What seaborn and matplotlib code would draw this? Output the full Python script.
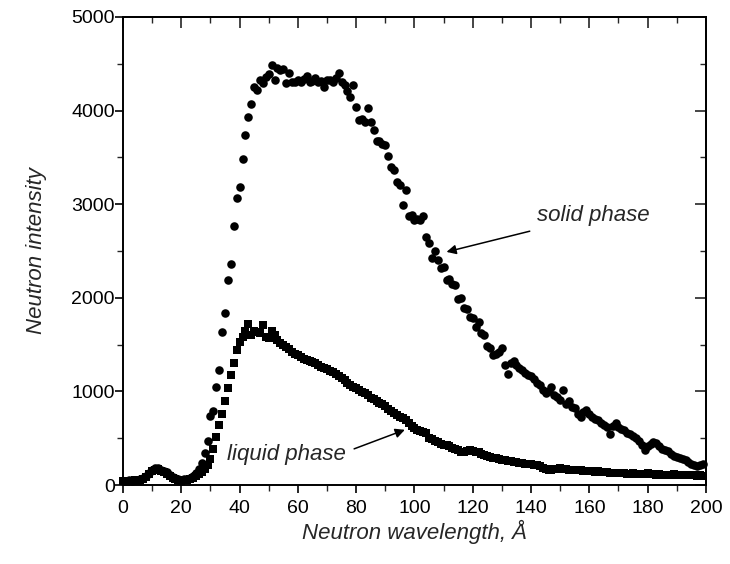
import matplotlib
matplotlib.use("Agg")
import matplotlib.pyplot as plt
from matplotlib.ticker import MultipleLocator
import seaborn as sns
import pandas as pd

# ---- data ----
wavelength = list(range(0, 200))

solid_intensity = [
    45, 40, 50, 45, 55, 50, 60, 75, 95, 130,
    160, 180, 185, 165, 150, 140, 110, 90, 75, 60,
    55, 60, 65, 80, 100, 130, 170, 240, 340, 470,
    740, 790, 1050, 1230, 1630, 1840, 2190, 2360, 2770, 3070,
    3180, 3480, 3740, 3930, 4070, 4250, 4220, 4330, 4290, 4360,
    4390, 4490, 4330, 4450, 4430, 4440, 4290, 4400, 4310, 4300,
    4325, 4310, 4340, 4370, 4300, 4320, 4345, 4300, 4320, 4255,
    4330, 4325, 4300, 4350, 4400, 4300, 4270, 4210, 4150, 4270,
    4040, 3900, 3910, 3880, 4030, 3880, 3790, 3670, 3680, 3640,
    3630, 3510, 3400, 3360, 3240, 3200, 2990, 3150, 2870, 2880,
    2830, 2840, 2830, 2870, 2650, 2580, 2420, 2500, 2400, 2320,
    2330, 2190, 2200, 2150, 2140, 1990, 2000, 1890, 1880, 1800,
    1780, 1690, 1740, 1620, 1600, 1480, 1460, 1390, 1400, 1420,
    1460, 1280, 1190, 1300, 1320, 1280, 1250, 1230, 1200, 1180,
    1160, 1130, 1090, 1070, 1020, 980, 1000, 1050, 960, 940,
    910, 1010, 870, 900, 836, 820, 760, 730, 780, 800,
    760, 730, 710, 690, 660, 640, 620, 550, 630, 660,
    620, 600, 590, 560, 540, 520, 500, 470, 430, 374,
    420, 440, 460, 450, 420, 390, 374, 360, 330, 310,
    300, 290, 280, 267, 250, 230, 214, 200, 214, 230,
]

liquid_intensity = [
    40, 35, 45, 40, 50, 45, 55, 65, 85, 115,
    145, 165, 170, 150, 135, 120, 95, 75, 60, 50,
    45, 50, 55, 65, 80, 100, 120, 140, 175, 214,
    280, 380, 510, 640, 760, 900, 1040, 1180, 1300, 1440,
    1530, 1580, 1640, 1716, 1600, 1650, 1630, 1620, 1709, 1580,
    1570, 1640, 1600, 1550, 1520, 1495, 1470, 1450, 1420, 1400,
    1390, 1370, 1350, 1335, 1320, 1310, 1300, 1280, 1260, 1246,
    1235, 1220, 1210, 1190, 1160, 1140, 1120, 1090, 1070, 1050,
    1040, 1010, 996, 980, 960, 930, 920, 900, 880, 870,
    840, 810, 790, 770, 750, 729, 712, 690, 660, 630,
    610, 590, 580, 570, 560, 500, 490, 470, 455, 440,
    430, 427, 420, 400, 380, 370, 356, 350, 360, 370,
    360, 356, 350, 330, 320, 310, 300, 290, 285, 280,
    270, 265, 260, 255, 250, 249, 240, 235, 230, 225,
    220, 214, 210, 200, 180, 170, 160, 165, 170, 175,
    178, 175, 170, 165, 160, 162, 158, 160, 150, 148,
    145, 150, 140, 145, 142, 138, 135, 130, 132, 128,
    125, 128, 125, 120, 122, 125, 118, 120, 115, 120,
    125, 118, 115, 112, 118, 110, 112, 108, 110, 115,
    105, 110, 108, 105, 110, 102, 105, 100, 104, 100,
]

x_ticks = [0, 20, 40, 60, 80, 100, 120, 140, 160, 180, 200]
y_ticks = [0, 1000, 2000, 3000, 4000, 5000]

x_label = "Neutron wavelength, Å"
y_label = "Neutron intensity"
solid_label = "solid phase"
liquid_label = "liquid phase"

# ---- style ----
sns.set_theme(style="ticks")
plt.rcParams["font.family"] = ["Liberation Sans", "DejaVu Sans"]

fig = plt.figure(figsize=(7.30, 5.64), dpi=100)
ax = fig.add_axes([0.1685, 0.140, 0.7985, 0.830])

df_solid = pd.DataFrame({"wavelength": wavelength, "intensity": solid_intensity})
df_liquid = pd.DataFrame({"wavelength": wavelength, "intensity": liquid_intensity})

sns.scatterplot(data=df_solid, x="wavelength", y="intensity", ax=ax,
                marker="o", s=38, color="black", linewidth=0, legend=False,
                clip_on=False, zorder=3)
sns.scatterplot(data=df_liquid, x="wavelength", y="intensity", ax=ax,
                marker="s", s=30, color="black", linewidth=0, legend=False,
                clip_on=False, zorder=3)

ax.set_xlim(0, 200)
ax.set_ylim(0, 5000)
ax.set_xticks(x_ticks)
ax.set_yticks(y_ticks)
ax.xaxis.set_minor_locator(MultipleLocator(10))
ax.yaxis.set_minor_locator(MultipleLocator(500))

for sp in ax.spines.values():
    sp.set_visible(True)
    sp.set_linewidth(1.4)
    sp.set_color("black")

ax.tick_params(axis="both", which="major", direction="out", length=6, width=1.2,
               labelsize=14, colors="black", top=False, right=False)
ax.tick_params(axis="x", which="major", pad=5)
ax.tick_params(axis="y", which="major", pad=0)
ax.tick_params(axis="both", which="minor", direction="out", length=4, width=1.0,
               top=False, right=False)

# top and right ticks point inward
secx = ax.secondary_xaxis("top")
secx.set_xticks(x_ticks)
secx.xaxis.set_minor_locator(MultipleLocator(10))
secx.tick_params(which="major", direction="in", length=8, width=1.2, labeltop=False)
secx.tick_params(which="minor", direction="in", length=4, width=1.0)
secx.spines["top"].set_linewidth(1.4)

secy = ax.secondary_yaxis("right")
secy.set_yticks(y_ticks)
secy.yaxis.set_minor_locator(MultipleLocator(500))
secy.tick_params(which="major", direction="in", length=8, width=1.2, labelright=False)
secy.tick_params(which="minor", direction="in", length=4, width=1.0)
secy.spines["right"].set_linewidth(1.4)

ax.set_xlabel(x_label, fontsize=16, style="italic", labelpad=2)
ax.set_ylabel(y_label, fontsize=16, style="italic", labelpad=17)

ax.annotate(solid_label, xy=(111, 2490), xytext=(142, 2880),
            fontsize=16, style="italic", va="center", ha="left",
            arrowprops=dict(arrowstyle="-|>", color="black", lw=1.1,
                            mutation_scale=14, shrinkA=6, shrinkB=0))
ax.annotate(liquid_label, xy=(96.7, 590), xytext=(35.6, 330),
            fontsize=16, style="italic", va="center", ha="left",
            arrowprops=dict(arrowstyle="-|>", color="black", lw=1.1,
                            mutation_scale=14, shrinkA=4, shrinkB=0,
                            relpos=(1.0, 0.6)))

fig.savefig("out.png", dpi=100, facecolor="white")
